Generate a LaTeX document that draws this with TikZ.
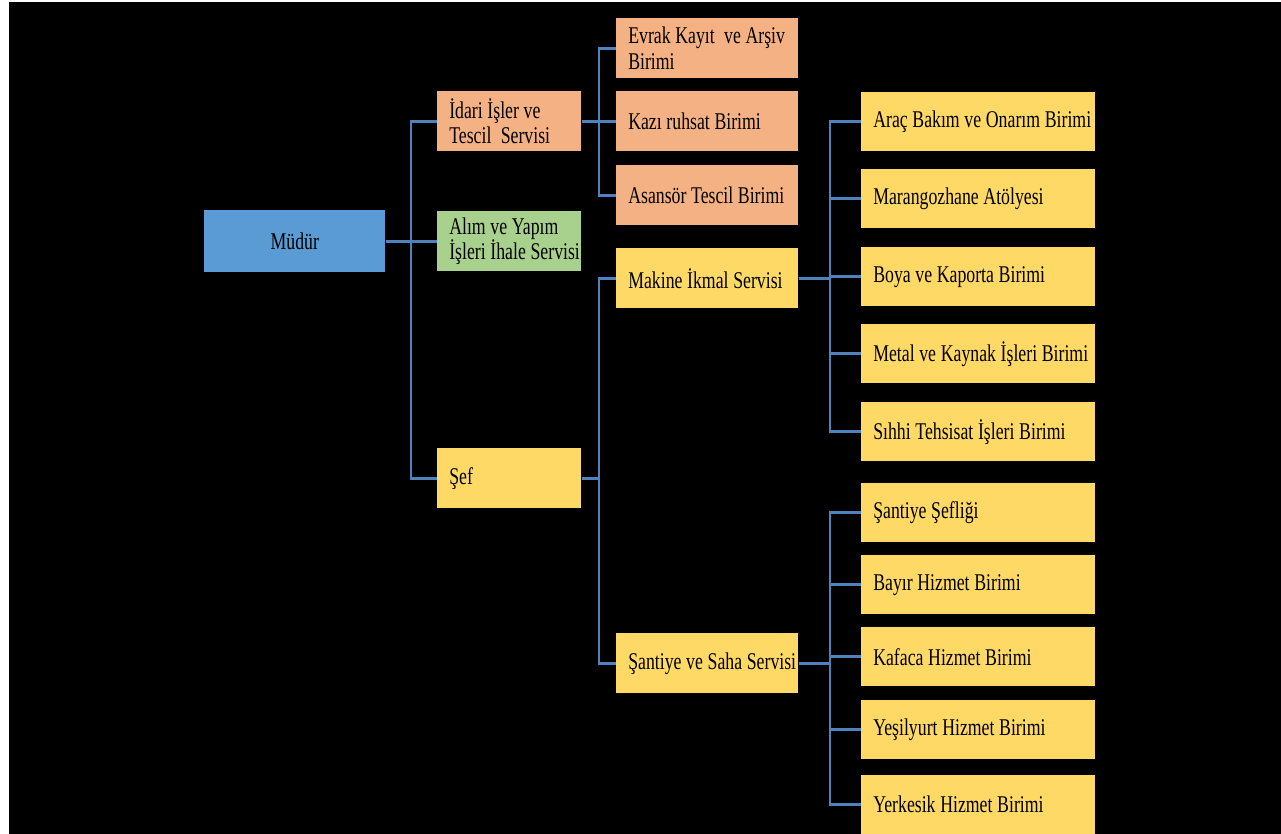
\documentclass[tikz,border=0pt]{standalone}
\usepackage{fontspec}
\setmainfont{Liberation Serif}[FakeStretch=0.74]
\usepackage{xcolor}
\definecolor{mavi}{HTML}{5B9BD5}
\definecolor{turuncu}{HTML}{F4B183}
\definecolor{yesil}{HTML}{A9D18E}
\definecolor{sari}{HTML}{FFD966}
\definecolor{hat}{HTML}{4F81BD}
\newcommand{\aralik}{\spaceskip=3.5pt plus 1pt minus 0.5pt\relax}
\tikzset{
  kutu/.style={anchor=north west,rectangle,inner sep=0pt,align=left,
               execute at begin node={\aralik\leftskip=9pt\relax
                 \rightskip=-12pt plus 1fil\relax\hyphenpenalty=10000\relax}},
  ust/.style={anchor=north west,rectangle,inner sep=0pt,fill=mavi,
              minimum width=135.75pt,minimum height=46.5pt},
  orta/.style={kutu,text width=108pt,minimum height=45pt},
  ucuncu/.style={kutu,text width=136.5pt,minimum height=45pt},
  son/.style={kutu,text width=175.5pt,minimum height=44.25pt,fill=sari},
  baglanti/.style={draw=hat,line width=2pt}
}

\begin{document}
\begin{tikzpicture}[x=0.75pt,y=-0.75pt,
    every node/.style={font=\fontsize{18pt}{19pt}\selectfont}]
 \useasboundingbox (0,0) rectangle (1281,834);
 \fill[white] (0,0) rectangle (1281,834);
 \fill[black] (9,2) rectangle (1281,834);

 \coordinate (B1) at (411,0);
 \coordinate (B2) at (599,0);
 \coordinate (B3) at (830,0);

 \draw (204,210) node[ust] (M) {Müdür};

 \draw (437,91)  node[orta,fill=turuncu] (I) {İdari İşler ve\\Tescil\ \ Servisi};
 \draw (437,211) node[orta,fill=yesil]   (A) {Alım ve Yapım\\İşleri İhale Servisi};
 \draw (437,448) node[orta,fill=sari]    (S) {Şef};

 \draw (616,18)  node[ucuncu,fill=turuncu] (E)  {Evrak Kayıt\ \ ve Arşiv\\Birimi};
 \draw (616,91)  node[ucuncu,fill=turuncu] (K)  {Kazı ruhsat Birimi};
 \draw (616,165) node[ucuncu,fill=turuncu] (T)  {Asansör Tescil Birimi};
 \draw (616,248) node[ucuncu,fill=sari]    (MI) {Makine İkmal Servisi};
 \draw (616,633) node[ucuncu,fill=sari]    (SS) {Şantiye ve Saha Servisi};

 \draw (861,92)  node[son] (U1) {Araç Bakım ve Onarım Birimi};
 \draw (861,169) node[son] (U2) {Marangozhane Atölyesi};
 \draw (861,247) node[son] (U3) {Boya ve Kaporta Birimi};
 \draw (861,324) node[son] (U4) {Metal ve Kaynak İşleri Birimi};
 \draw (861,402) node[son] (U5) {Sıhhi Tehsisat İşleri Birimi};

 \draw (861,483) node[son] (H1) {Şantiye Şefliği};
 \draw (861,555) node[son] (H2) {Bayır Hizmet Birimi};
 \draw (861,627) node[son] (H3) {Kafaca Hizmet Birimi};
 \draw (861,700) node[son] (H4) {Yeşilyurt Hizmet Birimi};
 \draw (861,775) node[son] (H5) {Yerkesik Hizmet Birimi};

 \foreach \n in {I,A,S}
   \draw[baglanti] (M.east) -- (M.east -| B1) |- (\n.west);
 \foreach \n in {E,K,T}
   \draw[baglanti] (I.east) -- (I.east -| B2) |- (\n.west);
 \foreach \n in {MI,SS}
   \draw[baglanti] (S.east) -- (S.east -| B2) |- (\n.west);
 \foreach \n in {U1,U2,U3,U4,U5}
   \draw[baglanti] (MI.east) -- (MI.east -| B3) |- (\n.west);
 \foreach \n in {H1,H2,H3,H4,H5}
   \draw[baglanti] (SS.east) -- (SS.east -| B3) |- (\n.west);

\end{tikzpicture}
\end{document}
